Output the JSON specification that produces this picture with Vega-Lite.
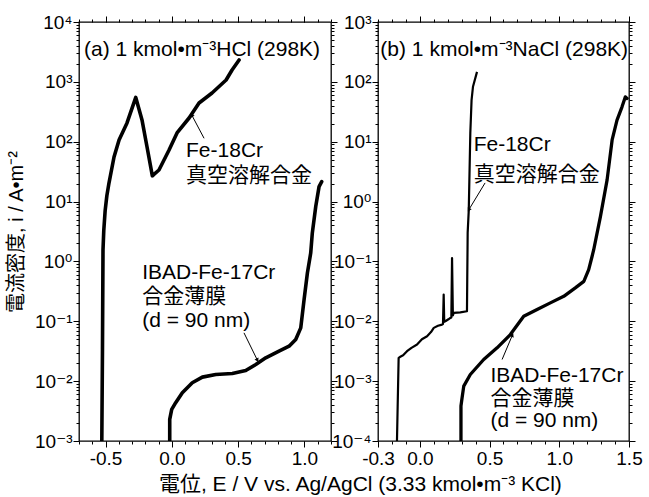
{
  "$schema": "https://vega.github.io/schema/vega-lite/v6.json",
  "background": "white",
  "padding": {"left": 5, "top": 12, "right": 2, "bottom": 2},
  "config": {
    "font": "Liberation Sans, Noto Sans CJK JP",
    "view": {"stroke": "black", "strokeWidth": 1.3},
    "axis": {"grid": false, "domain": false, "labelFont": "Liberation Sans, DejaVu Sans", "labelFontSize": 19, "labelColor": "black", "tickColor": "black", "tickWidth": 1, "titleColor": "black", "titleFont": "Liberation Sans, Noto Sans CJK JP", "titleFontSize": 20, "titleFontWeight": "normal", "labelOverlap": false, "labelFlush": false, "labelPadding": 2}
  },
  "title": {"text": "電位, E  / V vs. Ag/AgCl (3.33 kmol•m⁻³ KCl)", "orient": "bottom", "anchor": "middle", "dx": 36, "offset": 5, "fontSize": 21, "fontWeight": "normal", "font": "Liberation Sans, Noto Sans CJK JP", "color": "black"},
  "spacing": -8,
  "datasets": {
    "a_lines": [
      {"s": "Fe", "x": -0.528, "y": 0.001},
      {"s": "Fe", "x": -0.523, "y": 0.034},
      {"s": "Fe", "x": -0.519, "y": 1.57},
      {"s": "Fe", "x": -0.513, "y": 3.35},
      {"s": "Fe", "x": -0.503, "y": 7.0},
      {"s": "Fe", "x": -0.49, "y": 12.5},
      {"s": "Fe", "x": -0.474, "y": 20.4},
      {"s": "Fe", "x": -0.436, "y": 55.6},
      {"s": "Fe", "x": -0.398, "y": 107},
      {"s": "Fe", "x": -0.338, "y": 206},
      {"s": "Fe", "x": -0.272, "y": 550},
      {"s": "Fe", "x": -0.225, "y": 231},
      {"s": "Fe", "x": -0.187, "y": 81.7},
      {"s": "Fe", "x": -0.147, "y": 26.9},
      {"s": "Fe", "x": -0.135, "y": 28.5},
      {"s": "Fe", "x": -0.097, "y": 33.7},
      {"s": "Fe", "x": -0.021, "y": 72.8},
      {"s": "Fe", "x": 0.039, "y": 140},
      {"s": "Fe", "x": 0.13, "y": 249},
      {"s": "Fe", "x": 0.205, "y": 444},
      {"s": "Fe", "x": 0.303, "y": 652},
      {"s": "Fe", "x": 0.409, "y": 1074},
      {"s": "Fe", "x": 0.454, "y": 1578},
      {"s": "Fe", "x": 0.507, "y": 2317},
      {"s": "IBAD", "x": -0.016, "y": 0.001},
      {"s": "IBAD", "x": -0.016, "y": 0.0023},
      {"s": "IBAD", "x": -0.001, "y": 0.00337},
      {"s": "IBAD", "x": 0.029, "y": 0.00437},
      {"s": "IBAD", "x": 0.079, "y": 0.00641},
      {"s": "IBAD", "x": 0.154, "y": 0.0094},
      {"s": "IBAD", "x": 0.23, "y": 0.01167},
      {"s": "IBAD", "x": 0.331, "y": 0.01294},
      {"s": "IBAD", "x": 0.456, "y": 0.01343},
      {"s": "IBAD", "x": 0.557, "y": 0.01507},
      {"s": "IBAD", "x": 0.633, "y": 0.01897},
      {"s": "IBAD", "x": 0.708, "y": 0.02455},
      {"s": "IBAD", "x": 0.808, "y": 0.0316},
      {"s": "IBAD", "x": 0.884, "y": 0.0383},
      {"s": "IBAD", "x": 0.934, "y": 0.0495},
      {"s": "IBAD", "x": 0.972, "y": 0.0776},
      {"s": "IBAD", "x": 0.997, "y": 0.23},
      {"s": "IBAD", "x": 1.022, "y": 0.641},
      {"s": "IBAD", "x": 1.047, "y": 1.38},
      {"s": "IBAD", "x": 1.059, "y": 2.97},
      {"s": "IBAD", "x": 1.085, "y": 8.26},
      {"s": "IBAD", "x": 1.11, "y": 17.8},
      {"s": "IBAD", "x": 1.13, "y": 21.5}
    ],
    "b_lines": [
      {"s": "Fe", "x": -0.164, "y": 0.0001},
      {"s": "Fe", "x": -0.152, "y": 0.00245},
      {"s": "Fe", "x": -0.14, "y": 0.00255},
      {"s": "Fe", "x": -0.12, "y": 0.0027},
      {"s": "Fe", "x": -0.092, "y": 0.00316},
      {"s": "Fe", "x": -0.06, "y": 0.0036},
      {"s": "Fe", "x": -0.02, "y": 0.00409},
      {"s": "Fe", "x": 0.015, "y": 0.005},
      {"s": "Fe", "x": 0.052, "y": 0.00562},
      {"s": "Fe", "x": 0.08, "y": 0.0066},
      {"s": "Fe", "x": 0.1, "y": 0.00776},
      {"s": "Fe", "x": 0.13, "y": 0.0084},
      {"s": "Fe", "x": 0.159, "y": 0.00881},
      {"s": "Fe", "x": 0.166, "y": 0.009},
      {"s": "Fe", "x": 0.171, "y": 0.0279},
      {"s": "Fe", "x": 0.175, "y": 0.0098},
      {"s": "Fe", "x": 0.183, "y": 0.01},
      {"s": "Fe", "x": 0.205, "y": 0.0108},
      {"s": "Fe", "x": 0.219, "y": 0.0114},
      {"s": "Fe", "x": 0.226, "y": 0.0116},
      {"s": "Fe", "x": 0.231, "y": 0.114},
      {"s": "Fe", "x": 0.237, "y": 0.0125},
      {"s": "Fe", "x": 0.243, "y": 0.0138},
      {"s": "Fe", "x": 0.29, "y": 0.0141},
      {"s": "Fe", "x": 0.338, "y": 0.0147},
      {"s": "Fe", "x": 0.34, "y": 0.05},
      {"s": "Fe", "x": 0.342, "y": 0.157},
      {"s": "Fe", "x": 0.343, "y": 0.3},
      {"s": "Fe", "x": 0.351, "y": 0.728},
      {"s": "Fe", "x": 0.362, "y": 13.8},
      {"s": "Fe", "x": 0.371, "y": 49.5},
      {"s": "Fe", "x": 0.381, "y": 82.6},
      {"s": "Fe", "x": 0.41, "y": 147},
      {"s": "IBAD", "x": 0.295, "y": 0.0001},
      {"s": "IBAD", "x": 0.295, "y": 0.000383},
      {"s": "IBAD", "x": 0.303, "y": 0.000528},
      {"s": "IBAD", "x": 0.315, "y": 0.000826},
      {"s": "IBAD", "x": 0.362, "y": 0.00129},
      {"s": "IBAD", "x": 0.458, "y": 0.0023},
      {"s": "IBAD", "x": 0.554, "y": 0.0036},
      {"s": "IBAD", "x": 0.649, "y": 0.006},
      {"s": "IBAD", "x": 0.745, "y": 0.0121},
      {"s": "IBAD", "x": 0.841, "y": 0.0157},
      {"s": "IBAD", "x": 0.936, "y": 0.0203},
      {"s": "IBAD", "x": 1.032, "y": 0.0261},
      {"s": "IBAD", "x": 1.115, "y": 0.0361},
      {"s": "IBAD", "x": 1.176, "y": 0.0465},
      {"s": "IBAD", "x": 1.211, "y": 0.0728},
      {"s": "IBAD", "x": 1.235, "y": 0.121},
      {"s": "IBAD", "x": 1.247, "y": 0.157},
      {"s": "IBAD", "x": 1.295, "y": 0.562},
      {"s": "IBAD", "x": 1.343, "y": 2.3},
      {"s": "IBAD", "x": 1.379, "y": 10.7},
      {"s": "IBAD", "x": 1.414, "y": 23},
      {"s": "IBAD", "x": 1.45, "y": 38.3},
      {"s": "IBAD", "x": 1.474, "y": 56.2},
      {"s": "IBAD", "x": 1.486, "y": 52.8}
    ],
    "a_text": [
      {"x": -0.662, "y": 3373, "t": "(a) 1 kmol•m⁻³HCl (298K)"},
      {"x": 0.107, "y": 70, "t": "Fe-18Cr"},
      {"x": 0.107, "y": 26.8, "t": "真空溶解合金"},
      {"x": -0.223, "y": 0.649, "t": "IBAD-Fe-17Cr"},
      {"x": -0.223, "y": 0.258, "t": "合金薄膜"},
      {"x": -0.223, "y": 0.1028, "t": "(d = 90 nm)"}
    ],
    "b_text": [
      {"x": -0.283, "y": 337, "t": "(b) 1 kmol•m⁻³NaCl (298K)"},
      {"x": 0.386, "y": 8.81, "t": "Fe-18Cr"},
      {"x": 0.386, "y": 2.79, "t": "真空溶解合金"},
      {"x": 0.506, "y": 0.00121, "t": "IBAD-Fe-17Cr"},
      {"x": 0.506, "y": 0.000495, "t": "合金薄膜"},
      {"x": 0.506, "y": 0.000215, "t": "(d = 90 nm)"}
    ],
    "a_arrows": [
      {"k": "Fe", "x1": 0.243, "y1": 114, "x2": 0.15, "y2": 279},
      {"k": "IBAD", "x1": 0.544, "y1": 0.0641, "x2": 0.645, "y2": 0.0224}
    ],
    "b_arrows": [
      {"k": "Fe", "x1": 0.468, "y1": 2.05, "x2": 0.351, "y2": 0.728},
      {"k": "IBAD", "x1": 0.59, "y1": 0.0023, "x2": 0.664, "y2": 0.0059}
    ]
  },
  "hconcat": [
    {
      "width": 252,
      "height": 419,
      "resolve": {"axis": {"x": "independent", "y": "independent"}},
      "layer": [
        {
          "data": {"name": "a_lines"},
          "mark": {"type": "line", "color": "black", "strokeWidth": 3.6, "clip": true, "strokeJoin": "round", "strokeCap": "round"},
          "encoding": {
            "x": {"field": "x", "type": "quantitative", "scale": {"domain": [-0.7, 1.2], "nice": false, "zero": false},
              "axis": {"orient": "bottom", "values": [-0.5, 0, 0.5, 1], "labelExpr": "replace(format(datum.value, '.1f'), '−', '-')", "tickSize": 6, "title": null}},
            "y": {"field": "y", "type": "quantitative", "scale": {"type": "log", "domain": [0.001, 10000], "nice": false},
              "axis": {"orient": "left", "values": [0.001, 0.01, 0.1, 1, 10, 100, 1000, 10000],
                "labelExpr": "'10' + (round(log(datum.value)/LN10) < 0 ? '⁻' : '') + ['⁰','¹','²','³','⁴','⁵','⁶','⁷','⁸','⁹'][abs(round(log(datum.value)/LN10))]",
                "tickSize": 6, "labelPadding": 1, "title": "電流密度, i  / A•m⁻²", "titlePadding": 8}},
            "detail": {"field": "s", "type": "nominal"},
            "order": {"value": null}
          }
        },
        {
          "data": {"name": "a_lines"},
          "mark": {"type": "line", "opacity": 0},
          "encoding": {
            "x": {"field": "x", "type": "quantitative", "scale": {"domain": [-0.7, 1.2], "nice": false, "zero": false},
              "axis": {"orient": "bottom", "values": [-0.7,-0.6,-0.5,-0.4,-0.3,-0.2,-0.1,0,0.1,0.2,0.3,0.4,0.5,0.6,0.7,0.8,0.9,1,1.1,1.2], "labels": false, "tickSize": 3, "title": null}},
            "y": {"field": "y", "type": "quantitative", "scale": {"type": "log", "domain": [0.001, 10000], "nice": false},
              "axis": {"orient": "left", "values": [0.002,0.003,0.004,0.005,0.006,0.007,0.008,0.009,0.02,0.03,0.04,0.05,0.06,0.07,0.08,0.09,0.2,0.3,0.4,0.5,0.6,0.7,0.8,0.9,2,3,4,5,6,7,8,9,20,30,40,50,60,70,80,90,200,300,400,500,600,700,800,900,2000,3000,4000,5000,6000,7000,8000,9000], "labels": false, "tickSize": 3, "title": null}},
            "detail": {"field": "s", "type": "nominal"},
            "order": {"value": null}
          }
        },
        {
          "data": {"name": "a_lines"},
          "mark": {"type": "line", "opacity": 0},
          "encoding": {
            "x": {"field": "x", "type": "quantitative", "scale": {"domain": [-0.7, 1.2], "nice": false, "zero": false},
              "axis": {"orient": "top", "values": [-0.5, 0, 0.5, 1], "labels": false, "tickSize": 6, "title": null}},
            "y": {"field": "y", "type": "quantitative", "scale": {"type": "log", "domain": [0.001, 10000], "nice": false},
              "axis": {"orient": "right", "values": [0.001, 0.01, 0.1, 1, 10, 100, 1000, 10000], "labels": false, "tickSize": 6, "title": null}},
            "detail": {"field": "s", "type": "nominal"},
            "order": {"value": null}
          }
        },
        {
          "data": {"name": "a_lines"},
          "mark": {"type": "line", "opacity": 0},
          "encoding": {
            "x": {"field": "x", "type": "quantitative", "scale": {"domain": [-0.7, 1.2], "nice": false, "zero": false},
              "axis": {"orient": "top", "values": [-0.7,-0.6,-0.5,-0.4,-0.3,-0.2,-0.1,0,0.1,0.2,0.3,0.4,0.5,0.6,0.7,0.8,0.9,1,1.1,1.2], "labels": false, "tickSize": 3, "title": null}},
            "y": {"field": "y", "type": "quantitative", "scale": {"type": "log", "domain": [0.001, 10000], "nice": false},
              "axis": {"orient": "right", "values": [0.002,0.003,0.004,0.005,0.006,0.007,0.008,0.009,0.02,0.03,0.04,0.05,0.06,0.07,0.08,0.09,0.2,0.3,0.4,0.5,0.6,0.7,0.8,0.9,2,3,4,5,6,7,8,9,20,30,40,50,60,70,80,90,200,300,400,500,600,700,800,900,2000,3000,4000,5000,6000,7000,8000,9000], "labels": false, "tickSize": 3, "title": null}},
            "detail": {"field": "s", "type": "nominal"},
            "order": {"value": null}
          }
        },
        {
          "data": {"name": "a_text"},
          "mark": {"type": "text", "align": "left", "baseline": "middle", "fontSize": 21, "font": "Liberation Sans, Noto Sans CJK JP", "color": "black"},
          "encoding": {
            "x": {"field": "x", "type": "quantitative", "scale": {"domain": [-0.7, 1.2], "nice": false, "zero": false}, "axis": null},
            "y": {"field": "y", "type": "quantitative", "scale": {"type": "log", "domain": [0.001, 10000], "nice": false}, "axis": null},
            "text": {"field": "t", "type": "nominal"}
          }
        },
        {
          "data": {"name": "a_arrows"},
          "mark": {"type": "rule", "color": "black", "strokeWidth": 1},
          "encoding": {
            "x": {"field": "x1", "type": "quantitative", "scale": {"domain": [-0.7, 1.2], "nice": false, "zero": false}, "axis": null},
            "y": {"field": "y1", "type": "quantitative", "scale": {"type": "log", "domain": [0.001, 10000], "nice": false}, "axis": null},
            "x2": {"field": "x2"},
            "y2": {"field": "y2"}
          }
        },
        {
          "data": {"name": "a_arrows"},
          "transform": [{"filter": "datum.k == 'Fe'"}],
          "mark": {"type": "point", "shape": "triangle-up", "filled": true, "color": "black", "opacity": 1, "size": 20, "angle": 332},
          "encoding": {
            "x": {"field": "x2", "type": "quantitative", "scale": {"domain": [-0.7, 1.2], "nice": false, "zero": false}, "axis": null},
            "y": {"field": "y2", "type": "quantitative", "scale": {"type": "log", "domain": [0.001, 10000], "nice": false}, "axis": null}
          }
        },
        {
          "data": {"name": "a_arrows"},
          "transform": [{"filter": "datum.k == 'IBAD'"}],
          "mark": {"type": "point", "shape": "triangle-up", "filled": true, "color": "black", "opacity": 1, "size": 20, "angle": 153},
          "encoding": {
            "x": {"field": "x2", "type": "quantitative", "scale": {"domain": [-0.7, 1.2], "nice": false, "zero": false}, "axis": null},
            "y": {"field": "y2", "type": "quantitative", "scale": {"type": "log", "domain": [0.001, 10000], "nice": false}, "axis": null}
          }
        }
      ]
    },
    {
      "width": 251,
      "height": 419,
      "resolve": {"axis": {"x": "independent", "y": "independent"}},
      "layer": [
        {
          "data": {"name": "b_lines"},
          "transform": [{"filter": "datum.s == 'Fe'"}],
          "mark": {"type": "line", "color": "black", "strokeWidth": 2.2, "clip": true, "strokeJoin": "round"},
          "encoding": {
            "x": {"field": "x", "type": "quantitative", "scale": {"domain": [-0.3, 1.5], "nice": false, "zero": false},
              "axis": {"orient": "bottom", "values": [-0.3, 0, 0.5, 1, 1.5], "labelExpr": "replace(format(datum.value, '.1f'), '−', '-')", "tickSize": 6, "title": null}},
            "y": {"field": "y", "type": "quantitative", "scale": {"type": "log", "domain": [0.0001, 1000], "nice": false},
              "axis": {"orient": "left", "values": [0.0001, 0.001, 0.01, 0.1, 1, 10, 100, 1000],
                "labelExpr": "'10' + (round(log(datum.value)/LN10) < 0 ? '⁻' : '') + ['⁰','¹','²','³','⁴','⁵','⁶','⁷','⁸','⁹'][abs(round(log(datum.value)/LN10))]",
                "tickSize": 6, "labelPadding": 1, "title": null}},
            "order": {"value": null}
          }
        },
        {
          "data": {"name": "b_lines"},
          "transform": [{"filter": "datum.s == 'IBAD'"}],
          "mark": {"type": "line", "color": "black", "strokeWidth": 3.3, "clip": true, "strokeJoin": "round", "strokeCap": "round"},
          "encoding": {
            "x": {"field": "x", "type": "quantitative", "scale": {"domain": [-0.3, 1.5], "nice": false, "zero": false},
              "axis": {"orient": "bottom", "values": [-0.3,-0.2,-0.1,0,0.1,0.2,0.3,0.4,0.5,0.6,0.7,0.8,0.9,1,1.1,1.2,1.3,1.4,1.5], "labels": false, "tickSize": 3, "title": null}},
            "y": {"field": "y", "type": "quantitative", "scale": {"type": "log", "domain": [0.0001, 1000], "nice": false},
              "axis": {"orient": "left", "values": [0.0002,0.0003,0.0004,0.0005,0.0006,0.0007,0.0008,0.0009,0.002,0.003,0.004,0.005,0.006,0.007,0.008,0.009,0.02,0.03,0.04,0.05,0.06,0.07,0.08,0.09,0.2,0.3,0.4,0.5,0.6,0.7,0.8,0.9,2,3,4,5,6,7,8,9,20,30,40,50,60,70,80,90,200,300,400,500,600,700,800,900], "labels": false, "tickSize": 3, "title": null}},
            "order": {"value": null}
          }
        },
        {
          "data": {"name": "b_lines"},
          "mark": {"type": "line", "opacity": 0},
          "encoding": {
            "x": {"field": "x", "type": "quantitative", "scale": {"domain": [-0.3, 1.5], "nice": false, "zero": false},
              "axis": {"orient": "top", "values": [0, 0.5, 1, 1.5], "labels": false, "tickSize": 6, "title": null}},
            "y": {"field": "y", "type": "quantitative", "scale": {"type": "log", "domain": [0.0001, 1000], "nice": false},
              "axis": {"orient": "right", "values": [0.0001, 0.001, 0.01, 0.1, 1, 10, 100, 1000], "labels": false, "tickSize": 6, "title": null}},
            "detail": {"field": "s", "type": "nominal"},
            "order": {"value": null}
          }
        },
        {
          "data": {"name": "b_lines"},
          "mark": {"type": "line", "opacity": 0},
          "encoding": {
            "x": {"field": "x", "type": "quantitative", "scale": {"domain": [-0.3, 1.5], "nice": false, "zero": false},
              "axis": {"orient": "top", "values": [-0.3,-0.2,-0.1,0,0.1,0.2,0.3,0.4,0.5,0.6,0.7,0.8,0.9,1,1.1,1.2,1.3,1.4,1.5], "labels": false, "tickSize": 3, "title": null}},
            "y": {"field": "y", "type": "quantitative", "scale": {"type": "log", "domain": [0.0001, 1000], "nice": false},
              "axis": {"orient": "right", "values": [0.0002,0.0003,0.0004,0.0005,0.0006,0.0007,0.0008,0.0009,0.002,0.003,0.004,0.005,0.006,0.007,0.008,0.009,0.02,0.03,0.04,0.05,0.06,0.07,0.08,0.09,0.2,0.3,0.4,0.5,0.6,0.7,0.8,0.9,2,3,4,5,6,7,8,9,20,30,40,50,60,70,80,90,200,300,400,500,600,700,800,900], "labels": false, "tickSize": 3, "title": null}},
            "detail": {"field": "s", "type": "nominal"},
            "order": {"value": null}
          }
        },
        {
          "data": {"name": "b_text"},
          "mark": {"type": "text", "align": "left", "baseline": "middle", "fontSize": 21, "font": "Liberation Sans, Noto Sans CJK JP", "color": "black"},
          "encoding": {
            "x": {"field": "x", "type": "quantitative", "scale": {"domain": [-0.3, 1.5], "nice": false, "zero": false}, "axis": null},
            "y": {"field": "y", "type": "quantitative", "scale": {"type": "log", "domain": [0.0001, 1000], "nice": false}, "axis": null},
            "text": {"field": "t", "type": "nominal"}
          }
        },
        {
          "data": {"name": "b_arrows"},
          "mark": {"type": "rule", "color": "black", "strokeWidth": 1},
          "encoding": {
            "x": {"field": "x1", "type": "quantitative", "scale": {"domain": [-0.3, 1.5], "nice": false, "zero": false}, "axis": null},
            "y": {"field": "y1", "type": "quantitative", "scale": {"type": "log", "domain": [0.0001, 1000], "nice": false}, "axis": null},
            "x2": {"field": "x2"},
            "y2": {"field": "y2"}
          }
        },
        {
          "data": {"name": "b_arrows"},
          "transform": [{"filter": "datum.k == 'Fe'"}],
          "mark": {"type": "point", "shape": "triangle-up", "filled": true, "color": "black", "opacity": 1, "size": 20, "angle": 211},
          "encoding": {
            "x": {"field": "x2", "type": "quantitative", "scale": {"domain": [-0.3, 1.5], "nice": false, "zero": false}, "axis": null},
            "y": {"field": "y2", "type": "quantitative", "scale": {"type": "log", "domain": [0.0001, 1000], "nice": false}, "axis": null}
          }
        },
        {
          "data": {"name": "b_arrows"},
          "transform": [{"filter": "datum.k == 'IBAD'"}],
          "mark": {"type": "point", "shape": "triangle-up", "filled": true, "color": "black", "opacity": 1, "size": 20, "angle": 25},
          "encoding": {
            "x": {"field": "x2", "type": "quantitative", "scale": {"domain": [-0.3, 1.5], "nice": false, "zero": false}, "axis": null},
            "y": {"field": "y2", "type": "quantitative", "scale": {"type": "log", "domain": [0.0001, 1000], "nice": false}, "axis": null}
          }
        }
      ]
    }
  ]
}
